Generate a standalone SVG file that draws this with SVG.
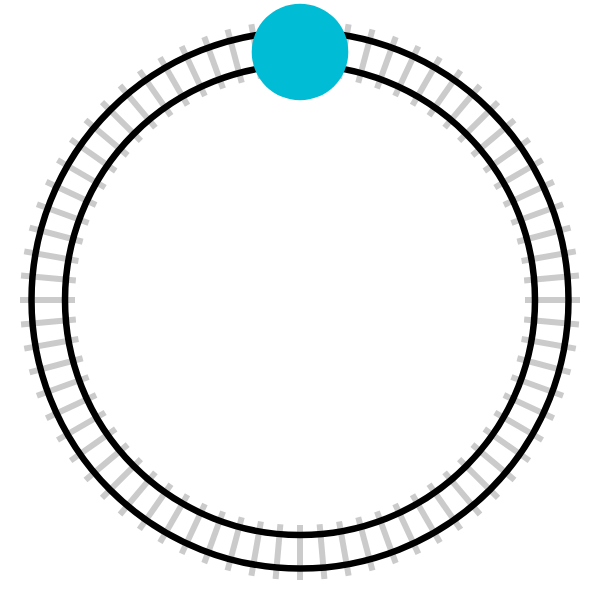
<svg xmlns="http://www.w3.org/2000/svg" xmlns:xlink="http://www.w3.org/1999/xlink" width="600" height="600" viewBox="0 0 600 600">
<style>
.tie{stroke:#cbcbcb;stroke-width:6}
.rail{fill:none;stroke:#000;stroke-width:6.5}
.train{fill:#00BCD4}
</style>
<defs>
<line id="t" class="tie" x1="300" y1="20" x2="300" y2="75"/>
</defs>
<rect width="600" height="600" fill="#fff"/>
<g id="ties">
<use xlink:href="#t" transform="rotate(0 300 300)"/>
<use xlink:href="#t" transform="rotate(5 300 300)"/>
<use xlink:href="#t" transform="rotate(10 300 300)"/>
<use xlink:href="#t" transform="rotate(15 300 300)"/>
<use xlink:href="#t" transform="rotate(20 300 300)"/>
<use xlink:href="#t" transform="rotate(25 300 300)"/>
<use xlink:href="#t" transform="rotate(30 300 300)"/>
<use xlink:href="#t" transform="rotate(35 300 300)"/>
<use xlink:href="#t" transform="rotate(40 300 300)"/>
<use xlink:href="#t" transform="rotate(45 300 300)"/>
<use xlink:href="#t" transform="rotate(50 300 300)"/>
<use xlink:href="#t" transform="rotate(55 300 300)"/>
<use xlink:href="#t" transform="rotate(60 300 300)"/>
<use xlink:href="#t" transform="rotate(65 300 300)"/>
<use xlink:href="#t" transform="rotate(70 300 300)"/>
<use xlink:href="#t" transform="rotate(75 300 300)"/>
<use xlink:href="#t" transform="rotate(80 300 300)"/>
<use xlink:href="#t" transform="rotate(85 300 300)"/>
<use xlink:href="#t" transform="rotate(90 300 300)"/>
<use xlink:href="#t" transform="rotate(95 300 300)"/>
<use xlink:href="#t" transform="rotate(100 300 300)"/>
<use xlink:href="#t" transform="rotate(105 300 300)"/>
<use xlink:href="#t" transform="rotate(110 300 300)"/>
<use xlink:href="#t" transform="rotate(115 300 300)"/>
<use xlink:href="#t" transform="rotate(120 300 300)"/>
<use xlink:href="#t" transform="rotate(125 300 300)"/>
<use xlink:href="#t" transform="rotate(130 300 300)"/>
<use xlink:href="#t" transform="rotate(135 300 300)"/>
<use xlink:href="#t" transform="rotate(140 300 300)"/>
<use xlink:href="#t" transform="rotate(145 300 300)"/>
<use xlink:href="#t" transform="rotate(150 300 300)"/>
<use xlink:href="#t" transform="rotate(155 300 300)"/>
<use xlink:href="#t" transform="rotate(160 300 300)"/>
<use xlink:href="#t" transform="rotate(165 300 300)"/>
<use xlink:href="#t" transform="rotate(170 300 300)"/>
<use xlink:href="#t" transform="rotate(175 300 300)"/>
<use xlink:href="#t" transform="rotate(180 300 300)"/>
<use xlink:href="#t" transform="rotate(185 300 300)"/>
<use xlink:href="#t" transform="rotate(190 300 300)"/>
<use xlink:href="#t" transform="rotate(195 300 300)"/>
<use xlink:href="#t" transform="rotate(200 300 300)"/>
<use xlink:href="#t" transform="rotate(205 300 300)"/>
<use xlink:href="#t" transform="rotate(210 300 300)"/>
<use xlink:href="#t" transform="rotate(215 300 300)"/>
<use xlink:href="#t" transform="rotate(220 300 300)"/>
<use xlink:href="#t" transform="rotate(225 300 300)"/>
<use xlink:href="#t" transform="rotate(230 300 300)"/>
<use xlink:href="#t" transform="rotate(235 300 300)"/>
<use xlink:href="#t" transform="rotate(240 300 300)"/>
<use xlink:href="#t" transform="rotate(245 300 300)"/>
<use xlink:href="#t" transform="rotate(250 300 300)"/>
<use xlink:href="#t" transform="rotate(255 300 300)"/>
<use xlink:href="#t" transform="rotate(260 300 300)"/>
<use xlink:href="#t" transform="rotate(265 300 300)"/>
<use xlink:href="#t" transform="rotate(270 300 300)"/>
<use xlink:href="#t" transform="rotate(275 300 300)"/>
<use xlink:href="#t" transform="rotate(280 300 300)"/>
<use xlink:href="#t" transform="rotate(285 300 300)"/>
<use xlink:href="#t" transform="rotate(290 300 300)"/>
<use xlink:href="#t" transform="rotate(295 300 300)"/>
<use xlink:href="#t" transform="rotate(300 300 300)"/>
<use xlink:href="#t" transform="rotate(305 300 300)"/>
<use xlink:href="#t" transform="rotate(310 300 300)"/>
<use xlink:href="#t" transform="rotate(315 300 300)"/>
<use xlink:href="#t" transform="rotate(320 300 300)"/>
<use xlink:href="#t" transform="rotate(325 300 300)"/>
<use xlink:href="#t" transform="rotate(330 300 300)"/>
<use xlink:href="#t" transform="rotate(335 300 300)"/>
<use xlink:href="#t" transform="rotate(340 300 300)"/>
<use xlink:href="#t" transform="rotate(345 300 300)"/>
<use xlink:href="#t" transform="rotate(350 300 300)"/>
<use xlink:href="#t" transform="rotate(355 300 300)"/>
</g>
<g id="rails">
<circle class="rail" cx="300" cy="300" r="268.5"/>
<circle class="rail" cx="300" cy="300" r="235"/>
</g>
<g id="train">
<circle class="train" cx="300" cy="52" r="48.3"/>
</g>
</svg>
